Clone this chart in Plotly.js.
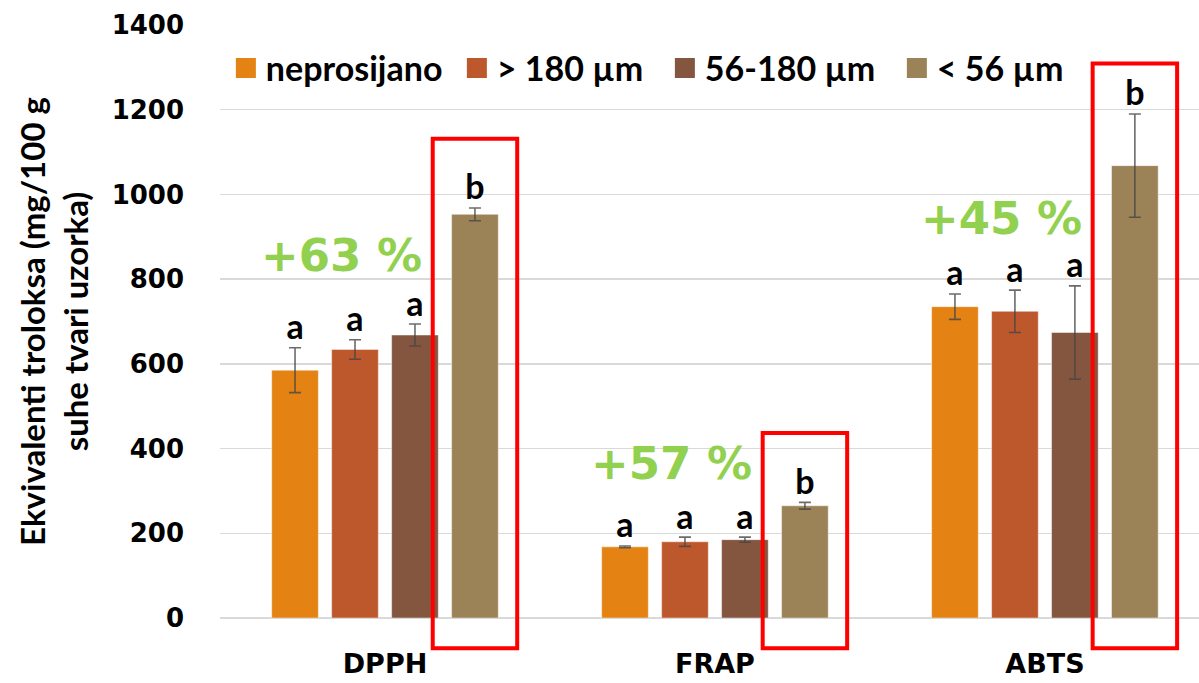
<!DOCTYPE html>
<html>
<head>
<meta charset="utf-8">
<script src="https://cdn.plot.ly/plotly-3.0.1.min.js"></script>
<style>html,body{margin:0;padding:0;background:#fff;}#chart{width:1199px;height:683px;}</style>
</head>
<body>
<div id="chart"></div>
<script>
// ---- data ----
const categories = ['DPPH', 'FRAP', 'ABTS'];
const seriesNames = ['neprosijano', '> 180 µm', '56-180 µm', '< 56 µm'];
const valNeprosijano = [585, 168, 735];
const errNeprosijano = [53, 2, 30];
const valGt180 = [634, 180, 724];
const errGt180 = [23, 11, 50];
const val56to180 = [668, 185, 674];
const err56to180 = [26, 6, 110];
const valLt56 = [953, 265, 1068];
const errLt56 = [15, 8, 122];
const lettersNeprosijano = ['a', 'a', 'a'];
const lettersGt180 = ['a', 'a', 'a'];
const letters56to180 = ['a', 'a', 'a'];
const lettersLt56 = ['b', 'b', 'b'];
const increaseLabels = ['+63 %', '+57 %', '+45 %'];
const yTickVals = [0, 200, 400, 600, 800, 1000, 1200, 1400];

// ---- styling ----
const colors = ['#E48214', '#BD582C', '#85563F', '#9B8357'];
const legendWidths = [186, 163, 187, 130];
const values = [valNeprosijano, valGt180, val56to180, valLt56];
const errors = [errNeprosijano, errGt180, err56to180, errLt56];
const letters = [lettersNeprosijano, lettersGt180, letters56to180, lettersLt56];

const traces = [];
for (let s = 0; s < 4; s++) {
  traces.push({
    type: 'bar', name: seriesNames[s], x: categories, y: values[s],
    offsetgroup: 'g' + s, showlegend: false, legendgroup: 'g' + s,
    marker: {color: colors[s], line: {color: 'rgba(255,255,255,0.45)', width: 1}},
    error_y: {type: 'data', array: errors[s], visible: true, color: 'rgba(70,70,70,0.8)', thickness: 1.6, width: 6},
    hoverinfo: 'skip'
  });
}
for (let s = 0; s < 4; s++) {
  traces.push({
    type: 'scatter', mode: 'text', x: categories,
    y: values[s].map((v, i) => v + errors[s][i]),
    text: letters[s], textposition: 'top center',
    offsetgroup: 'g' + s, showlegend: false, cliponaxis: false,
    textfont: {family: 'Lato, sans-serif', size: 34, weight: 'bold', color: '#000'},
    hoverinfo: 'skip'
  });
}
// legend entries (large square swatches)
for (let s = 0; s < 4; s++) {
  traces.push({
    type: 'scatter', mode: 'markers', name: seriesNames[s],
    x: [categories[0]], y: [null], offsetgroup: 'g' + s, legendgroup: 'g' + s,
    legendwidth: legendWidths[s],
    marker: {symbol: 'square', size: 16, color: colors[s], line: {color: colors[s], width: 4}},
    hoverinfo: 'skip'
  });
}

const pctY = [857, 364, 943];
const annotations = increaseLabels.map((t, i) => ({
  x: categories[i], y: pctY[i], xref: 'x', yref: 'y', text: t, showarrow: false,
  xshift: -43, font: {family: 'DejaVu Sans, sans-serif', size: 45, weight: 'bold', color: '#92D050'}
}));

const boxTop = [0.808, 0.312, 0.935];
const shapes = categories.map((c, i) => ({
  type: 'rect', xref: 'x', yref: 'paper',
  x0: i + 0.2727 - 0.128, x1: i + 0.2727 + 0.128,
  y0: -0.051, y1: boxTop[i],
  line: {color: '#FF0000', width: 4}, fillcolor: 'rgba(0,0,0,0)', layer: 'above'
}));

const layout = {
  width: 1199, height: 683,
  margin: {l: 220, r: 0, t: 25, b: 65},
  paper_bgcolor: '#fff', plot_bgcolor: '#fff',
  barmode: 'group', bargap: 0.273, bargroupgap: 0.222,
  scattermode: 'group', scattergap: 0.273,
  showlegend: true,
  legend: {orientation: 'h', x: 0.006, xanchor: 'left', y: 0.927, yanchor: 'middle',
    font: {family: 'Lato, sans-serif', size: 34, weight: 'bold', color: '#000'},
    bgcolor: 'rgba(0,0,0,0)', traceorder: 'normal', itemsizing: 'trace', itemwidth: 30},
  xaxis: {type: 'category', range: [-0.5, 2.467], showgrid: false, zeroline: false, showline: false,
    ticks: '', ticklabelstandoff: 27,
    tickfont: {family: 'DejaVu Sans, sans-serif', size: 27, weight: 'bold', color: '#000'}},
  yaxis: {range: [0, 1400], tickvals: yTickVals, showgrid: true, gridcolor: '#D9D9D9', gridwidth: 1.5,
    zeroline: true, zerolinecolor: '#D9D9D9', zerolinewidth: 1.5, showline: false, ticks: '',
    ticklabelstandoff: 35,
    tickfont: {family: 'DejaVu Sans, sans-serif', size: 26, weight: 'bold', color: '#000'},
    title: {text: 'Ekvivalenti troloksa (mg/100 g<br>suhe tvari uzorka)', standoff: 13,
      font: {family: 'Lato, sans-serif', size: 33, weight: 'bold', color: '#000'}}},
  annotations: annotations,
  shapes: shapes
};

Plotly.newPlot('chart', traces, layout, {displayModeBar: false, staticPlot: true});
</script>
</body>
</html>
